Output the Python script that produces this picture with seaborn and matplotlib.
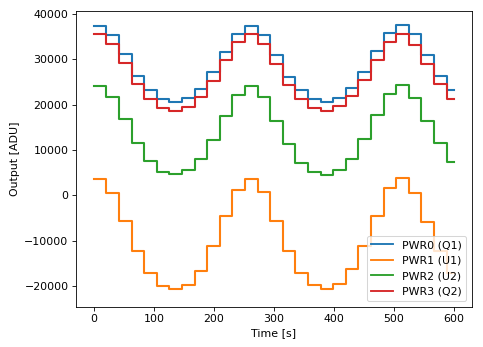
import numpy as np
import pandas as pd
import matplotlib
matplotlib.use("Agg")
import matplotlib.pyplot as plt
import seaborn as sns

# Step start times [s] (each step ~21 s), final end time
step_start = [0, 21, 42, 63, 84, 105, 126, 147, 168, 189, 210, 231, 252, 273, 294,
              315, 336, 357, 378, 399, 420, 441, 462, 483, 504, 525, 546, 567, 588]
t_end = 600

pwr0 = [37500, 35370, 31140, 26380, 23160, 21270, 20680, 21400, 23470, 27190, 31710,
        35660, 37500, 35440, 30990, 26230, 23250, 21270, 20530, 21400, 23690, 27330,
        31860, 35810, 37570, 35590, 30990, 26380, 23160]
pwr1 = [3570, 440, -5640, -12220, -17040, -19960, -20700, -19670, -16600, -11180, -4610,
        1230, 3570, 660, -5700, -12220, -17100, -19830, -20550, -19450, -16160, -11050,
        -4470, 1540, 3860, 440, -5790, -12150, -17000]
pwr2 = [24120, 21620, 16890, 11470, 7590, 5260, 4670, 5550, 7960, 12280, 17460,
        22060, 24190, 21710, 16510, 11400, 7150, 5260, 4520, 5550, 8110, 12410,
        17680, 22280, 24340, 21400, 16510, 11470, 7280]
pwr3 = [35530, 33330, 29170, 24560, 21340, 19300, 18710, 19520, 21710, 25280, 29830,
        33770, 35590, 33460, 29010, 24410, 21270, 19300, 18710, 19650, 21840, 25500,
        29890, 33900, 35660, 33180, 28950, 24560, 21270]

names = ["PWR0 (Q1)", "PWR1 (U1)", "PWR2 (U2)", "PWR3 (Q2)"]
series = [pwr0, pwr1, pwr2, pwr3]

rows = []
for name, vals in zip(names, series):
    times = list(step_start) + [t_end]
    values = list(vals) + [vals[-1]]
    for t, v in zip(times, values):
        rows.append({"Time": t, "Output": v, "Channel": name})
df = pd.DataFrame(rows)

plt.rcParams["font.size"] = 10.6
fig = plt.figure(figsize=(483 / 75, 347 / 75), dpi=75)
ax = fig.add_axes([0.157, 0.116, 0.820, 0.851])
palette = ["#1f77b4", "#ff7f0e", "#2ca02c", "#d62728"]
sns.lineplot(data=df, x="Time", y="Output", hue="Channel", hue_order=names,
             palette=palette, estimator=None, sort=False, drawstyle="steps-post",
             linewidth=2.0, ax=ax)
ax.set_xlim(-30, 630)
ax.set_ylim(-24550, 40600)
ax.set_xlabel("Time [s]")
ax.set_ylabel("Output [ADU]")
leg = ax.legend(loc="lower right")
for line in leg.get_lines():
    line.set_linewidth(1.8)
fig.savefig("out.png", dpi=75)
